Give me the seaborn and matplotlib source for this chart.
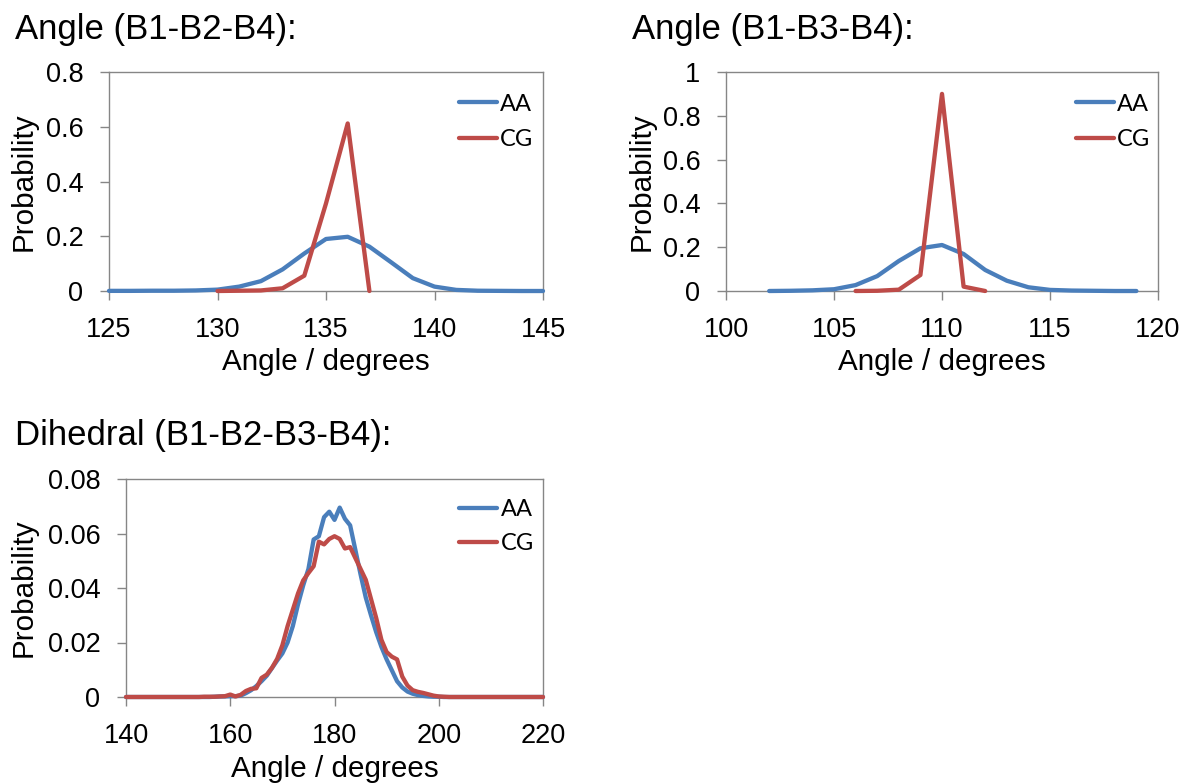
import matplotlib
matplotlib.use("Agg")
import matplotlib.pyplot as plt
import seaborn as sns
import numpy as np
import pandas as pd
from matplotlib.ticker import FuncFormatter

# ---------------- data ----------------
# Angle (B1-B2-B4)
a1_aa_x = list(range(125, 146))
a1_aa_y = [0.0005, 0.0005, 0.001, 0.001, 0.002, 0.005, 0.016, 0.036, 0.079, 0.137,
           0.190, 0.198, 0.162, 0.105, 0.047, 0.016, 0.004, 0.001, 0.0005, 0.0, 0.0]
a1_cg_x = list(range(130, 138))
a1_cg_y = [0.0, 0.001, 0.002, 0.010, 0.056, 0.320, 0.612, 0.0]

# Angle (B1-B3-B4)
a2_aa_x = list(range(102, 120))
a2_aa_y = [0.0, 0.001, 0.003, 0.008, 0.027, 0.068, 0.137, 0.195, 0.210, 0.169,
           0.096, 0.047, 0.017, 0.005, 0.002, 0.001, 0.0, 0.0]
a2_cg_x = list(range(106, 113))
a2_cg_y = [0.0, 0.001, 0.006, 0.073, 0.900, 0.020, 0.0]

# Dihedral (B1-B2-B3-B4)
d_x = list(range(140, 221))
d_aa_y = ([0.0] * 17 +                                    # 140-156
          [0.0001, 0.0002, 0.0002, 0.0003, 0.0003, 0.0005, 0.0014, 0.0025,  # 157-164
           0.004, 0.0058, 0.0078, 0.0106, 0.0134, 0.016, 0.020, 0.026,      # 165-172
           0.034, 0.041, 0.047, 0.0578, 0.059, 0.066, 0.068, 0.065,         # 173-180
           0.0695, 0.0654, 0.063, 0.054, 0.045, 0.0365, 0.030, 0.0238,      # 181-188
           0.0184, 0.0138, 0.0098, 0.0058, 0.0035, 0.002, 0.0012, 0.0007,   # 189-196
           0.0004, 0.0002, 0.0001, 0.0001] +                                # 197-200
          [0.0] * 20)                                                       # 201-220
d_cg_y = ([0.0] * 15 +                                    # 140-154
          [0.0001, 0.0001, 0.0001, 0.0002, 0.0003,                          # 155-159
           0.0009, 0.0002, 0.0008, 0.0022, 0.003, 0.0032, 0.007, 0.0082,    # 160-167
           0.0107, 0.014, 0.019, 0.026, 0.032, 0.038, 0.0428, 0.0455,       # 168-175
           0.048, 0.057, 0.056, 0.058, 0.059, 0.058, 0.0545, 0.055,         # 176-183
           0.051, 0.047, 0.043, 0.036, 0.029, 0.021, 0.0165, 0.0148,        # 184-191
           0.0138, 0.0075, 0.0042, 0.0025, 0.0019, 0.0015, 0.001, 0.0005,   # 192-199
           0.0002, 0.0001] +                                                # 200-201
          [0.0] * 19)                                                       # 202-220

series_names = ["AA", "CG"]
titles = ["Angle (B1-B2-B4):", "Angle (B1-B3-B4):", "Dihedral (B1-B2-B3-B4):"]
xlabel = "Angle / degrees"
ylabel = "Probability"
xticks = [[125, 130, 135, 140, 145], [100, 105, 110, 115, 120], [140, 160, 180, 200, 220]]
yticks = [[0, 0.2, 0.4, 0.6, 0.8], [0, 0.2, 0.4, 0.6, 0.8, 1.0], [0, 0.02, 0.04, 0.06, 0.08]]

# ---------------- style ----------------
sns.set_style("white")
plt.rcParams["font.family"] = ["Liberation Sans", "DejaVu Sans"]
plt.rcParams["text.color"] = "black"
plt.rcParams["axes.labelcolor"] = "black"

blue = "#4A7EBB"
red = "#BE4B48"
gray = "#868686"
LW = 3.1

W, H = 1185, 783
fig = plt.figure(figsize=(W / 100, H / 100), dpi=100)

def px_axes(l, t, r, b):
    return fig.add_axes([l / W, 1 - b / H, (r - l) / W, (b - t) / H])

axes = [px_axes(109, 72, 543, 291), px_axes(726, 72, 1158, 291), px_axes(126, 479, 543, 697)]
data = [
    (a1_aa_x, a1_aa_y, a1_cg_x, a1_cg_y),
    (a2_aa_x, a2_aa_y, a2_cg_x, a2_cg_y),
    (d_x, d_aa_y, d_x, d_cg_y),
]
ylab_x = [-0.164, -0.164, -0.211]
xlab_y = [-0.26, -0.26, -0.266]
leg_x = [0.806, 0.810, 0.799]
leg_y = [0.901, 0.901, 0.906]

for i, ax in enumerate(axes):
    ax_x, ax_y, cg_x, cg_y = data[i]
    df_aa = pd.DataFrame({"x": ax_x, "y": ax_y})
    df_cg = pd.DataFrame({"x": cg_x, "y": cg_y})
    sns.lineplot(data=df_aa, x="x", y="y", ax=ax, color=blue, linewidth=LW,
                 estimator=None, label=series_names[0], zorder=3, clip_on=False)
    sns.lineplot(data=df_cg, x="x", y="y", ax=ax, color=red, linewidth=LW,
                 estimator=None, label=series_names[1], zorder=3, clip_on=False)
    ax.set_xlim(xticks[i][0], xticks[i][-1])
    ax.set_ylim(yticks[i][0], yticks[i][-1])
    ax.set_xticks(xticks[i])
    ax.set_yticks(yticks[i])
    ax.yaxis.set_major_formatter(FuncFormatter(lambda v, p: "%g" % round(v, 4)))
    ax.xaxis.set_major_formatter(FuncFormatter(lambda v, p: "%g" % v))
    for s in ax.spines.values():
        s.set_visible(True)
        s.set_color(gray)
        s.set_linewidth(1.0)
    ax.tick_params(axis="both", direction="out", length=6.5, width=1.0, color=gray,
                   labelsize=19.5, pad=12, labelcolor="black")
    ax.tick_params(axis="x", bottom=True)
    ax.tick_params(axis="y", left=True)
    ax.set_xlabel(xlabel, fontsize=21.3, color="black")
    ax.set_ylabel(ylabel, fontsize=21.3, color="black")
    ax.yaxis.set_label_coords(ylab_x[i], 0.5)
    ax.xaxis.set_label_coords(0.5, xlab_y[i])
    ax.grid(False)
    leg = ax.legend(loc="upper left", bbox_to_anchor=(leg_x[i], leg_y[i]), frameon=False,
                    borderaxespad=0, borderpad=0, handlelength=1.6, handletextpad=0.15,
                    labelspacing=0.62 if i < 2 else 0.55, prop={"family": "Lato", "size": 17})
    for line in leg.get_lines():
        line.set_linewidth(LW)
    for t in leg.get_texts():
        t.set_color("black")

fig.text(15 / W, 1 - 39 / H, titles[0], fontsize=25, ha="left", va="baseline", color="black")
fig.text(632 / W, 1 - 39 / H, titles[1], fontsize=25, ha="left", va="baseline", color="black")
fig.text(15 / W, 1 - 445 / H, titles[2], fontsize=25, ha="left", va="baseline", color="black")

fig.savefig("out.png", dpi=100)
